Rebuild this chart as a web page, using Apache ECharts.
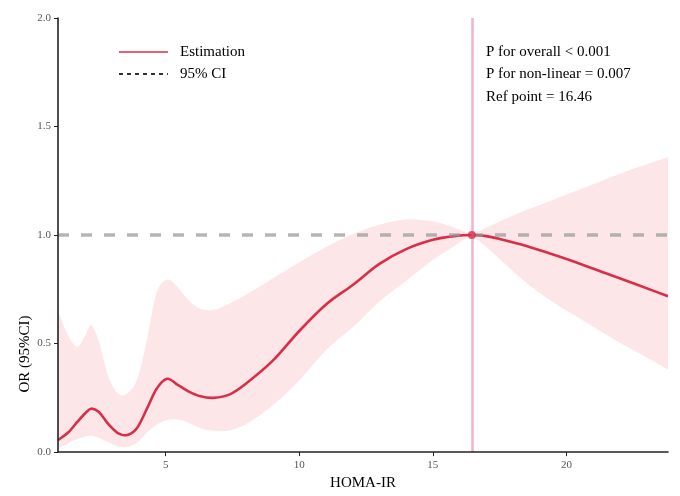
<!DOCTYPE html>
<html>
<head>
<meta charset="utf-8">
<script src="https://cdn.jsdelivr.net/npm/echarts@6/dist/echarts.min.js"></script>
<style>
html,body{margin:0;padding:0;background:#fff;}
#chart{width:680px;height:496px;}
</style>
</head>
<body>
<div id="chart"></div>
<script>
// HOMA-IR grid
var xs  = [0.97, 1.35, 1.7, 2.0, 2.2, 2.5, 2.85, 3.25, 3.6, 3.95, 4.3, 4.65, 5.05, 5.45, 5.85, 6.3, 6.8, 7.4, 8.0, 9, 10, 11, 12, 13, 14, 15, 15.8, 16.46, 17, 17.5, 18.5, 19.5, 20.5, 21.5, 22.5, 23.8];
// Estimated OR
var est = [0.055, 0.09, 0.14, 0.18, 0.20, 0.185, 0.13, 0.085, 0.08, 0.115, 0.20, 0.29, 0.338, 0.31, 0.28, 0.257, 0.25, 0.266, 0.315, 0.42, 0.558, 0.68, 0.77, 0.867, 0.935, 0.978, 0.995, 1.0, 0.995, 0.982, 0.95, 0.91, 0.868, 0.823, 0.778, 0.718];
// 95% CI upper
var hi  = [0.65, 0.537, 0.485, 0.54, 0.585, 0.51, 0.35, 0.266, 0.275, 0.34, 0.52, 0.73, 0.795, 0.76, 0.70, 0.66, 0.655, 0.685, 0.725, 0.80, 0.875, 0.945, 1.005, 1.048, 1.072, 1.062, 1.035, 1.0, 1.035, 1.063, 1.115, 1.163, 1.21, 1.258, 1.305, 1.36];
// 95% CI lower
var lo  = [0.02, 0.04, 0.06, 0.072, 0.075, 0.066, 0.045, 0.025, 0.025, 0.045, 0.09, 0.125, 0.148, 0.15, 0.135, 0.11, 0.098, 0.10, 0.128, 0.215, 0.33, 0.47, 0.575, 0.694, 0.79, 0.885, 0.95, 1.0, 0.945, 0.89, 0.78, 0.69, 0.615, 0.54, 0.47, 0.38];
var refPoint = 16.46;
var refOR = 1.0;
var xTicks = [5, 10, 15, 20];
var legendNames = ['Estimation', '95% CI'];
var annotations = ['P for overall < 0.001', 'P for non-linear = 0.007', 'Ref point = ' + refPoint.toFixed(2)];

var serif = 'Liberation Serif, Times New Roman, serif';
var RED = '#d92e48', BAND = '#fde6e8';

// smooth Hermite path through pixel points
function hermite(pts, first) {
  var n = pts.length, m = [], i;
  for (i = 0; i < n; i++) {
    var a = pts[Math.max(i - 1, 0)], b = pts[Math.min(i + 1, n - 1)];
    m.push((b[1] - a[1]) / (b[0] - a[0]));
  }
  var d = (first ? 'M' : 'L') + pts[0][0] + ' ' + pts[0][1];
  for (i = 0; i < n - 1; i++) {
    var p = pts[i], q = pts[i + 1], h = (q[0] - p[0]) / 3;
    d += ' C' + (p[0] + h) + ' ' + (p[1] + m[i] * h) + ' ' + (q[0] - h) + ' ' + (q[1] - m[i + 1] * h) + ' ' + q[0] + ' ' + q[1];
  }
  return d;
}

function bandRender(params, api) {
  if (params.dataIndex !== 0) return;
  var children = [], start = 0;
  for (var k = 1; k < xs.length; k++) {
    if (hi[k] === lo[k] || k === xs.length - 1) {
      var up = [], dn = [];
      for (var j = start; j <= k; j++) { up.push(api.coord([xs[j], hi[j]])); dn.push(api.coord([xs[j], lo[j]])); }
      dn.reverse();
      children.push({ type: 'path', shape: { pathData: hermite(up, true) + ' ' + hermite(dn, false) + ' Z' },
        style: { fill: BAND, stroke: null } });
      start = k;
    }
  }
  return { type: 'group', children: children };
}

function lineRender(params, api) {
  if (params.dataIndex !== 0) return;
  var pts = xs.map(function (x, i) { return api.coord([x, est[i]]); });
  return { type: 'path', shape: { pathData: hermite(pts, true) },
    style: { fill: null, stroke: RED, lineWidth: 2.6, lineJoin: 'round' } };
}

var chart = echarts.init(document.getElementById('chart'));
chart.setOption({
  animation: false,
  backgroundColor: '#fff',
  grid: { left: 58, right: 12, top: 18, bottom: 36, containLabel: false },
  xAxis: {
    type: 'value', min: 0.97, max: 23.8, z: 10,
    name: 'HOMA-IR', nameLocation: 'middle', nameGap: 21,
    nameTextStyle: { fontFamily: serif, fontSize: 15, color: '#000' },
    axisLine: { lineStyle: { color: '#222', width: 1.6 } },
    axisTick: { show: true, length: 4, customValues: xTicks, lineStyle: { color: '#222' } },
    axisLabel: { customValues: xTicks, fontFamily: serif, fontSize: 11, color: '#555', margin: 8 },
    splitLine: { show: false }
  },
  yAxis: {
    type: 'value', min: 0, max: 2, interval: 0.5, z: 10,
    axisLine: { show: true, lineStyle: { color: '#222', width: 1.6 } },
    axisTick: { show: true, length: 4, lineStyle: { color: '#222' } },
    axisLabel: { fontFamily: serif, fontSize: 11, color: '#555', margin: 7,
      formatter: function (v) { return v.toFixed(1); } },
    splitLine: { show: false }
  },
  graphic: [
    { type: 'line', shape: { x1: 119, y1: 52, x2: 168, y2: 52 }, style: { stroke: RED, lineWidth: 1.6 } },
    { type: 'text', x: 180, y: 52, style: { text: legendNames[0], font: '15px ' + serif, fill: '#000', verticalAlign: 'middle' } },
    { type: 'line', shape: { x1: 119, y1: 74, x2: 168, y2: 74 }, style: { stroke: '#000', lineWidth: 1.6, lineDash: [4, 4] } },
    { type: 'text', x: 180, y: 74, style: { text: legendNames[1], font: '15px ' + serif, fill: '#000', verticalAlign: 'middle' } },
    { type: 'text', x: 25, y: 354, rotation: Math.PI / 2,
      style: { text: 'OR (95%CI)', font: '15px ' + serif, fill: '#000', align: 'center', verticalAlign: 'middle' } },
    { type: 'text', x: 486, y: 52, style: { text: annotations[0], font: '15px ' + serif, fill: '#000', verticalAlign: 'middle' } },
    { type: 'text', x: 486, y: 74, style: { text: annotations[1], font: '15px ' + serif, fill: '#000', verticalAlign: 'middle' } },
    { type: 'text', x: 486, y: 97, style: { text: annotations[2], font: '15px ' + serif, fill: '#000', verticalAlign: 'middle' } }
  ],
  series: [
    { name: '95% CI', type: 'custom', coordinateSystem: 'cartesian2d', clip: true, silent: true, z: 1,
      data: xs.map(function (x, i) { return [x, lo[i], hi[i]]; }),
      encode: { x: 0, y: [1, 2] }, renderItem: bandRender },
    { name: 'refline', type: 'line', data: [], z: 3,
      markLine: { silent: true, symbol: 'none', label: { show: false },
        data: [
          { yAxis: refOR, lineStyle: { color: 'rgba(150,150,150,0.7)', width: 3.5, type: [11, 12] } },
          { xAxis: refPoint, lineStyle: { color: '#f2b4cd', width: 2.6, type: 'solid' } }
        ] } },
    { name: legendNames[0], type: 'custom', coordinateSystem: 'cartesian2d', clip: true, silent: true, z: 4,
      data: xs.map(function (x, i) { return [x, est[i]]; }),
      encode: { x: 0, y: 1 }, renderItem: lineRender },
    { name: 'ref', type: 'scatter', data: [[refPoint, refOR]], symbolSize: 8,
      itemStyle: { color: RED }, z: 5 }
  ]
});
</script>
</body>
</html>
